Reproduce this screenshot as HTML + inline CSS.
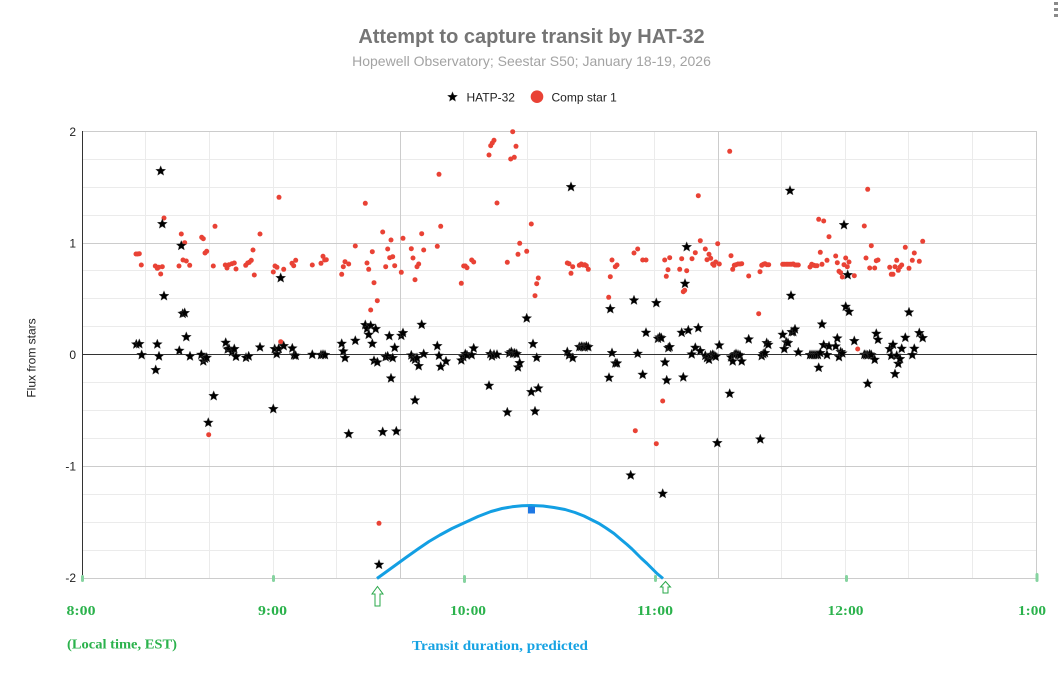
<!DOCTYPE html>
<html>
<head>
<meta charset="utf-8">
<style>
  html,body{margin:0;padding:0;background:#fff;}
  body{width:1063px;height:691px;overflow:hidden;}
  svg{display:block;}
</style>
</head>
<body>
<svg width="1063" height="691" viewBox="0 0 1063 691" xmlns="http://www.w3.org/2000/svg">
  <defs>
    <polygon id="s" points="0,-5.2 1.35,-1.86 4.95,-1.61 2.19,0.71 3.06,4.21 0,2.3 -3.06,4.21 -2.19,0.71 -4.95,-1.61 -1.35,-1.86" fill="#000" stroke="#444" stroke-width="0.4"/>
  </defs>
  <rect x="0" y="0" width="1063" height="691" fill="#fff"/>

  <!-- menu dots -->
  <rect x="1054" y="2" width="4" height="3" fill="#8a8a8a"/>
  <rect x="1054" y="8" width="4" height="3" fill="#8a8a8a"/>
  <rect x="1054" y="14" width="4" height="3" fill="#8a8a8a"/>

  <!-- title -->
  <text x="531.5" y="43" text-anchor="middle" font-family="Liberation Sans, Arial, sans-serif" font-size="20" font-weight="bold" fill="#757575">Attempt to capture transit by HAT-32</text>
  <text x="531.5" y="66" text-anchor="middle" font-family="Liberation Sans, Arial, sans-serif" font-size="14" fill="#a3a3a3">Hopewell Observatory; Seestar S50; January 18-19, 2026</text>

  <!-- legend -->
  <use href="#s" x="452.5" y="97"/>
  <text x="466.5" y="101.5" font-family="Liberation Sans, Arial, sans-serif" font-size="12" fill="#222">HATP-32</text>
  <circle cx="537" cy="96.7" r="6.3" fill="#e94235"/>
  <text x="551.5" y="101.5" font-family="Liberation Sans, Arial, sans-serif" font-size="12" fill="#222">Comp star 1</text>

  <!-- minor horizontal gridlines -->
  <g stroke="#ebebeb" stroke-width="1">
    <line x1="82" y1="159.5" x2="1037" y2="159.5"/>
    <line x1="82" y1="187.5" x2="1037" y2="187.5"/>
    <line x1="82" y1="215.5" x2="1037" y2="215.5"/>
    <line x1="82" y1="270.5" x2="1037" y2="270.5"/>
    <line x1="82" y1="298.5" x2="1037" y2="298.5"/>
    <line x1="82" y1="326.5" x2="1037" y2="326.5"/>
    <line x1="82" y1="382.5" x2="1037" y2="382.5"/>
    <line x1="82" y1="410.5" x2="1037" y2="410.5"/>
    <line x1="82" y1="438.5" x2="1037" y2="438.5"/>
    <line x1="82" y1="494.5" x2="1037" y2="494.5"/>
    <line x1="82" y1="522.5" x2="1037" y2="522.5"/>
    <line x1="82" y1="550.5" x2="1037" y2="550.5"/>
  </g>
  <!-- minor vertical gridlines -->
  <g stroke="#ebebeb" stroke-width="1">
    <line x1="145.5" y1="131" x2="145.5" y2="578"/>
    <line x1="209.5" y1="131" x2="209.5" y2="578"/>
    <line x1="273.5" y1="131" x2="273.5" y2="578"/>
    <line x1="336.5" y1="131" x2="336.5" y2="578"/>
    <line x1="463.5" y1="131" x2="463.5" y2="578"/>
    <line x1="527.5" y1="131" x2="527.5" y2="578"/>
    <line x1="590.5" y1="131" x2="590.5" y2="578"/>
    <line x1="654.5" y1="131" x2="654.5" y2="578"/>
    <line x1="781.5" y1="131" x2="781.5" y2="578"/>
    <line x1="845.5" y1="131" x2="845.5" y2="578"/>
    <line x1="908.5" y1="131" x2="908.5" y2="578"/>
    <line x1="972.5" y1="131" x2="972.5" y2="578"/>
  </g>
  <!-- major gridlines -->
  <g stroke="#cccccc" stroke-width="1">
    <line x1="82" y1="131.5" x2="1037" y2="131.5"/>
    <line x1="82" y1="243.5" x2="1037" y2="243.5"/>
    <line x1="82" y1="466.5" x2="1037" y2="466.5"/>
    <line x1="82" y1="578.5" x2="1037" y2="578.5"/>
    <line x1="400.5" y1="131" x2="400.5" y2="578"/>
    <line x1="718.5" y1="131" x2="718.5" y2="578"/>
    <line x1="1036.5" y1="131" x2="1036.5" y2="578"/>
  </g>
  <!-- zero line and left axis -->
  <line x1="82" y1="354.5" x2="1037" y2="354.5" stroke="#333" stroke-width="1"/>
  <line x1="82.5" y1="131" x2="82.5" y2="578" stroke="#333" stroke-width="1"/>

  <!-- y tick labels -->
  <g font-family="Liberation Sans, Arial, sans-serif" font-size="12" fill="#222" text-anchor="end">
    <text x="76" y="136">2</text>
    <text x="76" y="247.5">1</text>
    <text x="76" y="359">0</text>
    <text x="76" y="470.5">-1</text>
    <text x="76" y="582">-2</text>
  </g>
  <text transform="translate(35.5,358) rotate(-90)" text-anchor="middle" font-family="Liberation Sans, Arial, sans-serif" font-size="12" fill="#222">Flux from stars</text>

  <!-- red dots -->
  <g fill="#e94235">
    <circle cx="136" cy="254" r="2.5"/><circle cx="137.7" cy="254" r="2.5"/><circle cx="139.3" cy="253.7" r="2.5"/><circle cx="141.3" cy="265" r="2.5"/><circle cx="164" cy="218" r="2.5"/><circle cx="155.3" cy="266" r="2.5"/><circle cx="157.3" cy="268.3" r="2.5"/><circle cx="158.7" cy="267.3" r="2.5"/><circle cx="162.3" cy="266.7" r="2.5"/><circle cx="160.7" cy="274" r="2.5"/><circle cx="181.3" cy="234" r="2.5"/><circle cx="184.7" cy="242.7" r="2.5"/><circle cx="183" cy="260" r="2.5"/><circle cx="186.3" cy="261" r="2.5"/><circle cx="179" cy="266" r="2.5"/><circle cx="189.7" cy="265.3" r="2.5"/><circle cx="201.7" cy="237.3" r="2.5"/><circle cx="203.3" cy="238.7" r="2.5"/><circle cx="205" cy="253" r="2.5"/><circle cx="206.7" cy="251.3" r="2.5"/><circle cx="215" cy="226.3" r="2.5"/><circle cx="213.3" cy="266" r="2.5"/><circle cx="225.3" cy="265" r="2.5"/><circle cx="227" cy="268" r="2.5"/><circle cx="229" cy="264.7" r="2.5"/><circle cx="232" cy="263.7" r="2.5"/><circle cx="234.3" cy="263" r="2.5"/><circle cx="236" cy="269" r="2.5"/><circle cx="245.7" cy="265.3" r="2.5"/><circle cx="247.7" cy="263" r="2.5"/><circle cx="249.3" cy="262.3" r="2.5"/><circle cx="251.3" cy="260.3" r="2.5"/><circle cx="253" cy="250" r="2.5"/><circle cx="254.3" cy="275" r="2.5"/><circle cx="260" cy="234" r="2.5"/><circle cx="273.3" cy="272" r="2.5"/><circle cx="275" cy="266" r="2.5"/><circle cx="277" cy="267.3" r="2.5"/><circle cx="283.7" cy="269.3" r="2.5"/><circle cx="279" cy="197.3" r="2.5"/><circle cx="292" cy="263.3" r="2.5"/><circle cx="293.7" cy="265.7" r="2.5"/><circle cx="295.7" cy="260.3" r="2.5"/><circle cx="312.3" cy="265" r="2.5"/><circle cx="321" cy="263.3" r="2.5"/><circle cx="208.7" cy="434.7" r="2.5"/><circle cx="280.7" cy="341.7" r="2.5"/>
    <circle cx="323" cy="256.3" r="2.5"/><circle cx="324.7" cy="260" r="2.5"/><circle cx="326.3" cy="259.7" r="2.5"/><circle cx="341.7" cy="274.3" r="2.5"/><circle cx="343.3" cy="266.7" r="2.5"/><circle cx="345" cy="261.7" r="2.5"/><circle cx="348.7" cy="264" r="2.5"/><circle cx="355.3" cy="246" r="2.5"/><circle cx="365.3" cy="203.3" r="2.5"/><circle cx="367" cy="263" r="2.5"/><circle cx="368.7" cy="269.3" r="2.5"/><circle cx="372.3" cy="251.7" r="2.5"/><circle cx="374" cy="282.7" r="2.5"/><circle cx="377.3" cy="300.7" r="2.5"/><circle cx="370.7" cy="310" r="2.5"/><circle cx="382.7" cy="232" r="2.5"/><circle cx="385.7" cy="266.7" r="2.5"/><circle cx="387.7" cy="249" r="2.5"/><circle cx="389.7" cy="257.7" r="2.5"/><circle cx="392.7" cy="256.7" r="2.5"/><circle cx="394.7" cy="265.7" r="2.5"/><circle cx="391" cy="240" r="2.5"/><circle cx="401.3" cy="272.3" r="2.5"/><circle cx="403" cy="238.3" r="2.5"/><circle cx="411.3" cy="248.7" r="2.5"/><circle cx="413" cy="258" r="2.5"/><circle cx="415" cy="279.7" r="2.5"/><circle cx="417" cy="266.7" r="2.5"/><circle cx="418.7" cy="264" r="2.5"/><circle cx="421.7" cy="233.7" r="2.5"/><circle cx="423.7" cy="250" r="2.5"/><circle cx="437.3" cy="246.3" r="2.5"/><circle cx="439" cy="174.3" r="2.5"/><circle cx="440.7" cy="226.3" r="2.5"/><circle cx="461.3" cy="283.3" r="2.5"/><circle cx="463.7" cy="266" r="2.5"/><circle cx="465.3" cy="266" r="2.5"/><circle cx="467" cy="267.7" r="2.5"/><circle cx="471.7" cy="260" r="2.5"/><circle cx="473.7" cy="262" r="2.5"/><circle cx="489" cy="155" r="2.5"/><circle cx="490.7" cy="145.7" r="2.5"/><circle cx="492.3" cy="143" r="2.5"/><circle cx="494" cy="140.3" r="2.5"/><circle cx="497" cy="203" r="2.5"/><circle cx="507.3" cy="262.3" r="2.5"/><circle cx="510.7" cy="159" r="2.5"/><circle cx="514.3" cy="157.3" r="2.5"/><circle cx="512.7" cy="131.7" r="2.5"/><circle cx="516" cy="146.3" r="2.5"/><circle cx="518" cy="254.3" r="2.5"/><circle cx="519.7" cy="243.3" r="2.5"/><circle cx="526.7" cy="251.3" r="2.5"/><circle cx="531.3" cy="224" r="2.5"/><circle cx="535" cy="295.7" r="2.5"/><circle cx="536.7" cy="283.7" r="2.5"/><circle cx="538.3" cy="278" r="2.5"/><circle cx="379" cy="523.3" r="2.5"/>
    <circle cx="567.3" cy="263" r="2.5"/><circle cx="569" cy="263.7" r="2.5"/><circle cx="572.7" cy="266.7" r="2.5"/><circle cx="571" cy="273.3" r="2.5"/><circle cx="579.3" cy="265.3" r="2.5"/><circle cx="581.3" cy="264" r="2.5"/><circle cx="583" cy="265" r="2.5"/><circle cx="584.7" cy="264.7" r="2.5"/><circle cx="586.3" cy="265.7" r="2.5"/><circle cx="588.3" cy="269.3" r="2.5"/><circle cx="608.7" cy="297.3" r="2.5"/><circle cx="610.3" cy="276.7" r="2.5"/><circle cx="612" cy="260" r="2.5"/><circle cx="615.3" cy="266.7" r="2.5"/><circle cx="617" cy="265" r="2.5"/><circle cx="634" cy="253" r="2.5"/><circle cx="637.7" cy="249" r="2.5"/><circle cx="642.7" cy="260" r="2.5"/><circle cx="646" cy="260" r="2.5"/><circle cx="635.3" cy="430.7" r="2.5"/><circle cx="656.3" cy="443.7" r="2.5"/><circle cx="662.7" cy="401" r="2.5"/><circle cx="664.7" cy="260" r="2.5"/><circle cx="666.3" cy="276.3" r="2.5"/><circle cx="668" cy="269.7" r="2.5"/><circle cx="669.7" cy="257.7" r="2.5"/><circle cx="679.7" cy="269.3" r="2.5"/><circle cx="681.7" cy="258.7" r="2.5"/><circle cx="683.3" cy="291.7" r="2.5"/><circle cx="684.7" cy="290.3" r="2.5"/><circle cx="686.7" cy="270.7" r="2.5"/><circle cx="692" cy="258.7" r="2.5"/><circle cx="695.3" cy="252.7" r="2.5"/><circle cx="698.3" cy="195.7" r="2.5"/><circle cx="700.3" cy="240.7" r="2.5"/><circle cx="705.3" cy="249" r="2.5"/><circle cx="707" cy="259.7" r="2.5"/><circle cx="709" cy="254.3" r="2.5"/><circle cx="710.7" cy="258.3" r="2.5"/><circle cx="712.7" cy="264" r="2.5"/><circle cx="714" cy="265.3" r="2.5"/><circle cx="715.7" cy="262" r="2.5"/><circle cx="717.7" cy="243.7" r="2.5"/><circle cx="719.3" cy="264" r="2.5"/><circle cx="729.7" cy="151.3" r="2.5"/><circle cx="731" cy="255.7" r="2.5"/><circle cx="732.7" cy="269.3" r="2.5"/><circle cx="734.3" cy="265.3" r="2.5"/><circle cx="736" cy="264.7" r="2.5"/><circle cx="738" cy="264" r="2.5"/><circle cx="740" cy="264" r="2.5"/><circle cx="741.7" cy="263.7" r="2.5"/><circle cx="748.7" cy="276" r="2.5"/><circle cx="758.7" cy="313.7" r="2.5"/><circle cx="760" cy="271.7" r="2.5"/><circle cx="761.7" cy="265.3" r="2.5"/><circle cx="763.3" cy="264.3" r="2.5"/><circle cx="765" cy="263.7" r="2.5"/><circle cx="767" cy="264.7" r="2.5"/><circle cx="768.7" cy="264.7" r="2.5"/><circle cx="782.7" cy="264.3" r="2.5"/><circle cx="784.3" cy="264.3" r="2.5"/><circle cx="786.3" cy="264.3" r="2.5"/><circle cx="788" cy="264.3" r="2.5"/><circle cx="790" cy="264.3" r="2.5"/><circle cx="791.7" cy="264.3" r="2.5"/><circle cx="793.3" cy="264" r="2.5"/>
    <circle cx="795" cy="265" r="2.5"/><circle cx="796.7" cy="265" r="2.5"/><circle cx="798.3" cy="265" r="2.5"/><circle cx="810" cy="267" r="2.5"/><circle cx="811.7" cy="264.3" r="2.5"/><circle cx="813.7" cy="265.3" r="2.5"/><circle cx="815.3" cy="265.7" r="2.5"/><circle cx="817" cy="265.7" r="2.5"/><circle cx="822" cy="264.3" r="2.5"/><circle cx="818.7" cy="219.3" r="2.5"/><circle cx="823.7" cy="221" r="2.5"/><circle cx="820.3" cy="252.3" r="2.5"/><circle cx="827" cy="260.3" r="2.5"/><circle cx="829" cy="236.7" r="2.5"/><circle cx="835.7" cy="256" r="2.5"/><circle cx="837.3" cy="262.7" r="2.5"/><circle cx="839" cy="271.3" r="2.5"/><circle cx="840.7" cy="272.7" r="2.5"/><circle cx="842.3" cy="277" r="2.5"/><circle cx="844" cy="264.7" r="2.5"/><circle cx="845.7" cy="258" r="2.5"/><circle cx="847.3" cy="266.7" r="2.5"/><circle cx="849" cy="262" r="2.5"/><circle cx="854.3" cy="275.7" r="2.5"/><circle cx="857.7" cy="349" r="2.5"/><circle cx="864.3" cy="226" r="2.5"/><circle cx="867.7" cy="189.3" r="2.5"/><circle cx="866" cy="258" r="2.5"/><circle cx="869.7" cy="268" r="2.5"/><circle cx="871.3" cy="245.7" r="2.5"/><circle cx="874.7" cy="268" r="2.5"/><circle cx="876.3" cy="260.7" r="2.5"/><circle cx="878" cy="260" r="2.5"/><circle cx="889.7" cy="267.3" r="2.5"/><circle cx="891.3" cy="274.3" r="2.5"/><circle cx="893" cy="274.3" r="2.5"/><circle cx="895" cy="266.7" r="2.5"/><circle cx="896.7" cy="260.3" r="2.5"/><circle cx="898.3" cy="270.3" r="2.5"/><circle cx="900" cy="267" r="2.5"/><circle cx="901.7" cy="265" r="2.5"/><circle cx="905.3" cy="247.3" r="2.5"/><circle cx="909" cy="268.3" r="2.5"/><circle cx="912.3" cy="260.3" r="2.5"/><circle cx="914.3" cy="253" r="2.5"/><circle cx="919.3" cy="261.3" r="2.5"/><circle cx="922.7" cy="241.3" r="2.5"/>
  </g>

  <!-- black stars -->
  <g>
    <use href="#s" x="160.7" y="171"/><use href="#s" x="162.3" y="224"/><use href="#s" x="181.3" y="245.7"/><use href="#s" x="164" y="296"/><use href="#s" x="182.7" y="313.7"/><use href="#s" x="184.7" y="313"/><use href="#s" x="186.3" y="337"/><use href="#s" x="136.3" y="344.3"/><use href="#s" x="139.3" y="344"/><use href="#s" x="141.7" y="355"/><use href="#s" x="157.3" y="344.3"/><use href="#s" x="159" y="356.3"/><use href="#s" x="155.7" y="370"/><use href="#s" x="179.3" y="350.7"/><use href="#s" x="190" y="356.3"/><use href="#s" x="201.3" y="354.7"/><use href="#s" x="203.3" y="361.3"/><use href="#s" x="205" y="358.7"/><use href="#s" x="206.7" y="357.7"/><use href="#s" x="213.7" y="396"/><use href="#s" x="208.3" y="422.7"/><use href="#s" x="225.7" y="342.7"/><use href="#s" x="227.7" y="349.3"/><use href="#s" x="229" y="348.7"/><use href="#s" x="232" y="352"/><use href="#s" x="234.3" y="349"/><use href="#s" x="236" y="356.7"/><use href="#s" x="246" y="357.7"/><use href="#s" x="248.7" y="356.3"/><use href="#s" x="260" y="347.3"/><use href="#s" x="273.3" y="409"/><use href="#s" x="274.7" y="349"/><use href="#s" x="276.7" y="354"/><use href="#s" x="278.7" y="348.7"/><use href="#s" x="283.7" y="346"/><use href="#s" x="280.7" y="278"/><use href="#s" x="292.3" y="348.3"/><use href="#s" x="294" y="355.3"/><use href="#s" x="295.7" y="355.7"/><use href="#s" x="312.3" y="354.7"/><use href="#s" x="321" y="355"/>
    <use href="#s" x="323" y="354.7"/><use href="#s" x="325" y="355"/><use href="#s" x="341.7" y="343.7"/><use href="#s" x="343.3" y="351.3"/><use href="#s" x="345" y="358"/><use href="#s" x="348.7" y="434"/><use href="#s" x="355.3" y="340.7"/><use href="#s" x="365.3" y="325"/><use href="#s" x="367" y="328.7"/><use href="#s" x="368.7" y="334.7"/><use href="#s" x="370.7" y="325.7"/><use href="#s" x="372.3" y="343.7"/><use href="#s" x="375.7" y="329"/><use href="#s" x="374" y="360.7"/><use href="#s" x="377.3" y="362.3"/><use href="#s" x="382.7" y="432"/><use href="#s" x="385.7" y="357"/><use href="#s" x="387.7" y="356.3"/><use href="#s" x="392.7" y="358"/><use href="#s" x="389.3" y="336"/><use href="#s" x="394.7" y="347.7"/><use href="#s" x="391" y="378.3"/><use href="#s" x="396.3" y="431.3"/><use href="#s" x="401.3" y="335.7"/><use href="#s" x="403" y="333"/><use href="#s" x="411.3" y="355.3"/><use href="#s" x="413" y="358"/><use href="#s" x="415" y="359.7"/><use href="#s" x="417" y="358"/><use href="#s" x="418.7" y="366"/><use href="#s" x="415" y="400.3"/><use href="#s" x="421.7" y="324.7"/><use href="#s" x="423.7" y="354"/><use href="#s" x="437.3" y="346"/><use href="#s" x="439" y="355.7"/><use href="#s" x="440.7" y="366.7"/><use href="#s" x="446" y="361.3"/><use href="#s" x="461.3" y="360.3"/><use href="#s" x="463.3" y="357"/><use href="#s" x="465.3" y="354"/><use href="#s" x="467" y="355.3"/><use href="#s" x="471.7" y="355"/><use href="#s" x="473.7" y="348.3"/><use href="#s" x="489" y="385.7"/><use href="#s" x="490.3" y="354"/><use href="#s" x="492" y="356.3"/><use href="#s" x="494" y="354.7"/><use href="#s" x="497" y="354.7"/><use href="#s" x="507.3" y="412.3"/><use href="#s" x="509.3" y="353.3"/><use href="#s" x="511.3" y="352"/><use href="#s" x="513" y="353.7"/><use href="#s" x="514.7" y="353.3"/><use href="#s" x="516.7" y="354"/><use href="#s" x="518" y="367.3"/><use href="#s" x="519.7" y="363"/><use href="#s" x="526.7" y="318.3"/><use href="#s" x="533" y="344"/><use href="#s" x="536.7" y="357.7"/><use href="#s" x="531.3" y="392"/><use href="#s" x="538.3" y="388.3"/><use href="#s" x="535" y="411.3"/><use href="#s" x="379" y="564.7"/>
    <use href="#s" x="571" y="187"/><use href="#s" x="567.3" y="352"/><use href="#s" x="569" y="355.3"/><use href="#s" x="572.7" y="358"/><use href="#s" x="579.3" y="347"/><use href="#s" x="581.3" y="346.7"/><use href="#s" x="583" y="347"/><use href="#s" x="584.7" y="347.3"/><use href="#s" x="586.3" y="346.3"/><use href="#s" x="588.3" y="347"/><use href="#s" x="609" y="377.7"/><use href="#s" x="610.3" y="309"/><use href="#s" x="612" y="353"/><use href="#s" x="615.3" y="363.3"/><use href="#s" x="617" y="363.3"/><use href="#s" x="630.7" y="475.3"/><use href="#s" x="634" y="300.3"/><use href="#s" x="637.7" y="353.7"/><use href="#s" x="642.7" y="374.7"/><use href="#s" x="646" y="332.7"/><use href="#s" x="656.3" y="303"/><use href="#s" x="658" y="338.7"/><use href="#s" x="659.7" y="337.3"/><use href="#s" x="661.3" y="338"/><use href="#s" x="662.7" y="493.7"/><use href="#s" x="665" y="362.3"/><use href="#s" x="666.7" y="380.3"/><use href="#s" x="668.3" y="348"/><use href="#s" x="669.7" y="347"/><use href="#s" x="681.7" y="332.7"/><use href="#s" x="683.3" y="377.3"/><use href="#s" x="685" y="283.7"/><use href="#s" x="686.7" y="247"/><use href="#s" x="688.3" y="330.3"/><use href="#s" x="691.7" y="354.3"/><use href="#s" x="695.3" y="347.7"/><use href="#s" x="698.3" y="328"/><use href="#s" x="700.3" y="351"/><use href="#s" x="705.3" y="355.7"/><use href="#s" x="707" y="358"/><use href="#s" x="709" y="359.7"/><use href="#s" x="710.7" y="355.3"/><use href="#s" x="712.7" y="354.7"/><use href="#s" x="714" y="355.7"/><use href="#s" x="715.7" y="356.7"/><use href="#s" x="719.3" y="345.3"/><use href="#s" x="717.3" y="443"/><use href="#s" x="729.7" y="393.7"/><use href="#s" x="731" y="357.3"/><use href="#s" x="732.7" y="361.3"/><use href="#s" x="734.3" y="355"/><use href="#s" x="736" y="354"/><use href="#s" x="738" y="354.7"/><use href="#s" x="740" y="355.3"/><use href="#s" x="741.7" y="361.3"/><use href="#s" x="748.7" y="339.3"/><use href="#s" x="760.3" y="439.3"/><use href="#s" x="761.7" y="356"/><use href="#s" x="763.3" y="354"/><use href="#s" x="765" y="353"/><use href="#s" x="766.7" y="343"/><use href="#s" x="768.3" y="344.7"/><use href="#s" x="782.7" y="334.7"/><use href="#s" x="784.3" y="349"/><use href="#s" x="786.3" y="342.3"/><use href="#s" x="788" y="343"/><use href="#s" x="791.7" y="332"/><use href="#s" x="790" y="190.7"/><use href="#s" x="791" y="295.7"/>
    <use href="#s" x="844" y="225"/><use href="#s" x="847.7" y="275"/><use href="#s" x="845.7" y="306.7"/><use href="#s" x="849" y="311.7"/><use href="#s" x="822" y="324.3"/><use href="#s" x="793.3" y="332"/><use href="#s" x="795" y="329.3"/><use href="#s" x="798.3" y="352.3"/><use href="#s" x="810" y="355"/><use href="#s" x="812" y="355"/><use href="#s" x="814" y="355"/><use href="#s" x="816" y="355"/><use href="#s" x="818" y="355"/><use href="#s" x="820.3" y="353"/><use href="#s" x="818.7" y="367.7"/><use href="#s" x="823.7" y="345"/><use href="#s" x="827" y="355"/><use href="#s" x="829" y="346.3"/><use href="#s" x="835.7" y="346.3"/><use href="#s" x="837.3" y="338.3"/><use href="#s" x="839" y="357"/><use href="#s" x="840.7" y="352"/><use href="#s" x="842.3" y="353.3"/><use href="#s" x="854.3" y="341"/><use href="#s" x="864.3" y="354.7"/><use href="#s" x="866" y="355"/><use href="#s" x="867.7" y="355.3"/><use href="#s" x="869.7" y="354.3"/><use href="#s" x="871.3" y="355"/><use href="#s" x="874.7" y="359.7"/><use href="#s" x="867.7" y="383.7"/><use href="#s" x="876.3" y="333.7"/><use href="#s" x="878" y="339.7"/><use href="#s" x="889.7" y="349"/><use href="#s" x="891.3" y="355.7"/><use href="#s" x="893" y="344.7"/><use href="#s" x="896.7" y="355.7"/><use href="#s" x="898.3" y="363.7"/><use href="#s" x="900" y="359"/><use href="#s" x="901.7" y="348.7"/><use href="#s" x="895" y="374"/><use href="#s" x="905.3" y="337.7"/><use href="#s" x="909" y="312.3"/><use href="#s" x="912.3" y="355"/><use href="#s" x="914.3" y="348.7"/><use href="#s" x="919.3" y="333"/><use href="#s" x="922.7" y="338"/>
  </g>

  <!-- transit curve -->
  <polyline fill="none" stroke="#139fe3" stroke-width="3" stroke-linejoin="round" points="377,578.5 386,572 395,565.5 406,557.5 418,549 429,541.5 440,535 452,528.5 465,522.5 478,516.5 491,511.5 502,508.5 512,506.8 522,505.8 531,505.5 543,506 554,507.5 565,509.5 575,512.5 584,516 591,519.5 599,523.5 606,528 614,533.5 621,539.5 627,544.5 632,549 637,554 641,558 647,563.5 652,568.5 657,573.5 663,578.5"/>
  <rect x="528" y="506.5" width="7" height="7" fill="#1e78e4"/>

  <!-- green axis markers -->
  <g fill="#86d3a0">
    <rect x="81" y="575" width="3" height="7" rx="1.5"/>
    <rect x="272" y="575" width="3" height="7" rx="1.5"/>
    <rect x="463" y="575" width="3" height="8" rx="1.5"/>
    <rect x="654" y="575" width="3" height="7" rx="1.5"/>
    <rect x="845" y="575" width="3" height="7" rx="1.5"/>
    <rect x="1035.5" y="573" width="3" height="9" rx="1.5"/>
  </g>

  <!-- green arrows -->
  <polygon points="377.5,586.5 383,594 380,594 380,606 375,606 375,594 372,594" fill="#fff" stroke="#2aa84a" stroke-width="1"/>
  <polygon points="665.5,581.5 670.5,587 668,587 668,593 663,593 663,587 660.5,587" fill="#fff" stroke="#2aa84a" stroke-width="1"/>

  <!-- time labels -->
  <g font-family="Liberation Serif, serif" font-size="14" font-weight="bold" fill="#2bb24c" text-anchor="middle">
    <text x="81" y="615" textLength="29" lengthAdjust="spacingAndGlyphs">8:00</text>
    <text x="272.5" y="615" textLength="29" lengthAdjust="spacingAndGlyphs">9:00</text>
    <text x="468" y="615" textLength="36" lengthAdjust="spacingAndGlyphs">10:00</text>
    <text x="655" y="615" textLength="36" lengthAdjust="spacingAndGlyphs">11:00</text>
    <text x="845.5" y="615" textLength="36" lengthAdjust="spacingAndGlyphs">12:00</text>
    <text x="1032" y="615" textLength="28" lengthAdjust="spacingAndGlyphs">1:00</text>
  </g>
  <text x="67" y="648.5" font-family="Liberation Serif, serif" font-size="14" font-weight="bold" fill="#2bb24c" textLength="110" lengthAdjust="spacingAndGlyphs">(Local time, EST)</text>
  <text x="412" y="650" font-family="Liberation Serif, serif" font-size="14" font-weight="bold" fill="#17a3e3" textLength="176" lengthAdjust="spacingAndGlyphs">Transit duration, predicted</text>
</svg>
</body>
</html>
